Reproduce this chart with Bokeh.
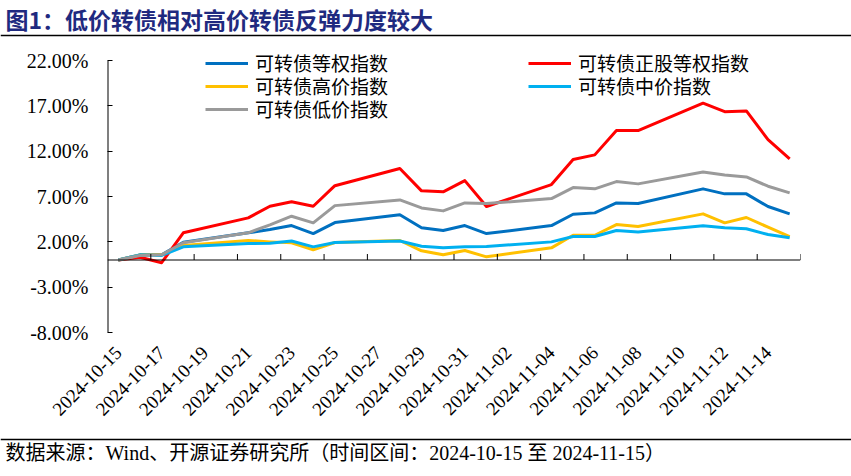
import pandas as pd
from math import pi
from bokeh.plotting import figure
from bokeh.models import Range1d, FixedTicker, Legend, LegendItem, Span
from bokeh.layouts import column
from bokeh.embed import file_html
from bokeh.resources import INLINE
from bokeh.core.properties import value

# ---------------- data ----------------
dates = ["2024-10-15", "2024-10-16", "2024-10-17", "2024-10-18", "2024-10-21",
         "2024-10-22", "2024-10-23", "2024-10-24", "2024-10-25", "2024-10-28",
         "2024-10-29", "2024-10-30", "2024-10-31", "2024-11-01", "2024-11-04",
         "2024-11-05", "2024-11-06", "2024-11-07", "2024-11-08", "2024-11-11",
         "2024-11-12", "2024-11-13", "2024-11-14", "2024-11-15"]

equal_weight = [0, 0.57, 0.57, 1.96, 3.00, 3.36, 3.80, 2.92, 4.13, 5.00, 3.55, 3.25,
                3.80, 2.92, 3.80, 5.05, 5.20, 6.30, 6.23, 7.85, 7.30, 7.30, 5.90, 5.09]
stock_equal = [0, 0.30, -0.30, 3.00, 4.65, 5.93, 6.42, 5.93, 8.20, 10.10, 7.63, 7.52,
               8.76, 5.90, 8.32, 11.08, 11.60, 14.28, 14.28, 17.30, 16.37, 16.45, 13.28, 11.15]
high_price = [0, 0.57, 0.57, 1.60, 2.15, 2.00, 1.90, 1.12, 1.93, 2.15, 1.01, 0.57,
              1.05, 0.35, 1.34, 2.73, 2.73, 3.91, 3.69, 5.09, 4.10, 4.69, 3.62, 2.59]
mid_price = [0, 0.57, 0.50, 1.45, 1.82, 1.85, 2.10, 1.45, 1.93, 2.10, 1.52, 1.34,
             1.45, 1.49, 2.00, 2.59, 2.59, 3.25, 3.10, 3.77, 3.55, 3.44, 2.81, 2.45]
low_price = [0, 0.50, 0.57, 1.90, 3.00, 3.88, 4.83, 4.10, 6.00, 6.63, 5.75, 5.42,
             6.30, 6.23, 6.78, 7.99, 7.85, 8.65, 8.40, 9.72, 9.39, 9.17, 8.14, 7.41]

series_names = ["可转债等权指数", "可转债正股等权指数", "可转债高价指数", "可转债中价指数", "可转债低价指数"]
series_values = [equal_weight, stock_equal, high_price, mid_price, low_price]
series_colors = ["#0070C0", "#FF0000", "#FFC000", "#00B0F0", "#9A9A9A"]

x_tick_labels = ["2024-10-15", "2024-10-17", "2024-10-19", "2024-10-21", "2024-10-23",
                 "2024-10-25", "2024-10-27", "2024-10-29", "2024-10-31", "2024-11-02",
                 "2024-11-04", "2024-11-06", "2024-11-08", "2024-11-10", "2024-11-12",
                 "2024-11-14"]
y_ticks = [-8, -3, 2, 7, 12, 17, 22]
y_tick_labels = ["-8.00%", "-3.00%", "2.00%", "7.00%", "12.00%", "17.00%", "22.00%"]

title_text = "图1：低价转债相对高价转债反弹力度较大"
source_text = "数据来源：Wind、开源证券研究所（时间区间：2024-10-15 至 2024-11-15）"

# ---------------- helpers ----------------
start = pd.Timestamp(dates[0])
xs = [(pd.Timestamp(d) - start).days for d in dates]
x_ticks = [(pd.Timestamp(d) - start).days for d in x_tick_labels]
n_days = (pd.Timestamp(dates[-1]) - start).days + 1
y_min, y_max = y_ticks[0], y_ticks[-1]

W = 851
CJK = "Noto Sans CJK SC"
SERIF = "Liberation Serif"


def no_align(fig):
    try:
        fig.frame_align = False
    except Exception:
        pass


# ---------------- title ----------------
t = figure(width=W, height=38, x_range=Range1d(0, W), y_range=Range1d(38, 0),
           toolbar_location=None, output_backend="svg", min_border=0,
           x_axis_location=None, y_axis_location=None, outline_line_color=None)
no_align(t)
t.grid.visible = False
t.text(x=[5], y=[18], text=[title_text], text_font=value(CJK), text_font_style="bold",
       text_font_size="23px", text_baseline="middle", text_color="#1F2A80")
t.add_layout(Span(location=35, dimension="width", line_color="#000000", line_width=1.5))

# ---------------- main chart ----------------
p = figure(width=W, height=392, x_range=Range1d(-0.5, n_days - 0.5), y_range=Range1d(y_min, 24),
           toolbar_location=None, output_backend="svg",
           min_border_left=107, min_border_right=51, min_border_top=4, min_border_bottom=98,
           outline_line_color=None)
no_align(p)
p.grid.visible = False

renderers = []
for name, vals, col in zip(series_names, series_values, series_colors):
    r = p.line(xs, vals, line_color=col, line_width=3, line_join="round")
    renderers.append(r)

# zero line (x axis) and inward tick marks at day boundaries
p.add_layout(Span(location=0, dimension="width", line_color="#000000", line_width=1))
bounds = [k + 0.5 for k in range(1, n_days, 2)]
p.segment(x0=bounds, y0=[0] * len(bounds), x1=bounds, y1=[0.66] * len(bounds),
          line_color="#000000", line_width=1)
# y axis line limited to the labelled span
p.segment(x0=[-0.5], y0=[y_min], x1=[-0.5], y1=[y_max], line_color="#000000", line_width=2)

# x axis (labels only)
xa = p.xaxis[0]
xa.ticker = FixedTicker(ticks=x_ticks)
xa.major_label_overrides = {k: v for k, v in zip(x_ticks, x_tick_labels)}
xa.major_label_orientation = pi / 4
xa.axis_line_color = None
xa.major_tick_line_color = None
xa.minor_tick_line_color = None
xa.major_label_text_font = SERIF
xa.major_label_text_font_size = "19px"
xa.major_label_text_color = "#000000"
xa.major_label_standoff = 11

# y axis
ya = p.yaxis[0]
ya.ticker = FixedTicker(ticks=y_ticks)
ya.major_label_overrides = {k: v for k, v in zip(y_ticks, y_tick_labels)}
ya.axis_line_color = None
ya.major_tick_line_color = "#000000"
ya.major_tick_in = 5
ya.major_tick_out = 0
ya.minor_tick_line_color = None
ya.major_label_text_font = SERIF
ya.major_label_text_font_size = "20px"
ya.major_label_text_color = "#000000"
ya.major_label_standoff = 19


# legend: one single-entry legend per row so that the row pitch matches
legend_slots = [(0, 98, 256), (2, 98, 233), (4, 98, 210), (1, 421, 256), (3, 421, 233)]
for i, lx, ly in legend_slots:
    leg = Legend(items=[LegendItem(label=series_names[i], renderers=[renderers[i]])],
                 location=(lx, ly), orientation="vertical")
    leg.padding = 0
    leg.margin = 0
    leg.spacing = 0
    leg.label_height = 24
    leg.glyph_height = 24
    leg.glyph_width = 43
    leg.label_standoff = 7
    leg.background_fill_alpha = 0
    leg.border_line_color = None
    leg.label_text_font = CJK
    leg.label_text_font_size = "19px"
    leg.label_text_color = "#000000"
    p.add_layout(leg)

# ---------------- footer ----------------
f = figure(width=W, height=46, x_range=Range1d(0, W), y_range=Range1d(46, 0),
           toolbar_location=None, output_backend="svg", min_border=0,
           x_axis_location=None, y_axis_location=None, outline_line_color=None)
no_align(f)
f.grid.visible = False
f.add_layout(Span(location=9, dimension="width", line_color="#000000", line_width=1.5))
f.text(x=[5], y=[22], text=[source_text], text_font=value(SERIF + ", " + CJK),
       text_font_size="20px", text_baseline="middle", text_color="#000000")

layout = column(t, p, f, spacing=0)
open("out.html", "w").write(file_html(layout, INLINE))
